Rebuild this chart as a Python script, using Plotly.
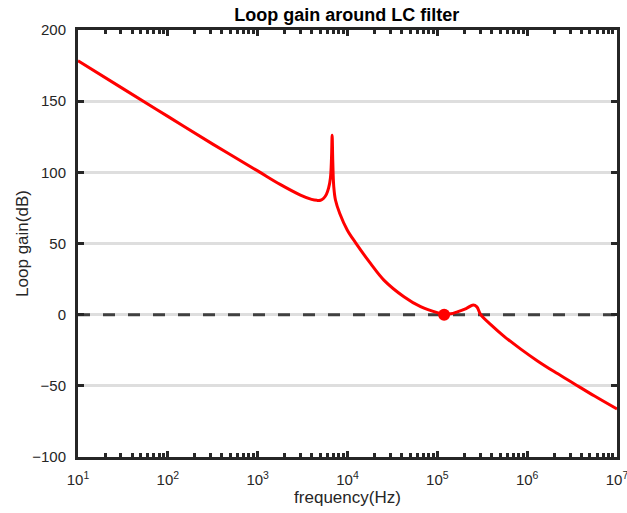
import plotly.graph_objects as go

# frequency (log10 Hz) and loop gain (dB)
log_freq = [1.0, 1.5, 2.0, 2.5, 3.0, 3.25, 3.476, 3.6, 3.66, 3.7, 3.735, 3.765, 3.79,
            3.81, 3.822, 3.829, 3.836, 3.847, 3.866, 3.914, 3.997, 4.089, 4.256, 4.405,
            4.628, 4.814, 5.0, 5.074, 5.15, 5.223, 5.32, 5.40, 5.44, 5.483, 5.595, 5.743,
            5.929, 6.115, 6.3, 6.487, 6.75, 7.0]
gain_db = [178.4, 158.8, 139.3, 119.8, 101.0, 91.5, 84.0, 81.0, 80.3, 80.4, 81.8, 84.5, 89.0,
           96.0, 110.0, 126.0, 108.0, 90.0, 80.6, 71.1, 59.5, 50.6, 36.0, 24.3,
           12.6, 5.6, 1.4, 0.4, 0.6, 2.0, 4.3, 6.8, 5.5, 0.0, -7.0, -15.2,
           -24.2, -32.5, -40.0, -47.1, -57.2, -66.3]
freq = [10 ** v for v in log_freq]

marker_freq = [1.19e5]
marker_gain = [0.0]

x_ticks = [1e1, 1e2, 1e3, 1e4, 1e5, 1e6, 1e7]
x_labels = ["10<sup>1</sup>", "10<sup>2</sup>", "10<sup>3</sup>", "10<sup>4</sup>",
            "10<sup>5</sup>", "10<sup>6</sup>", "10<sup>7</sup>"]
x_minor = [m * 10 ** e for e in range(1, 7) for m in range(2, 10)]
y_ticks = [-100, -50, 0, 50, 100, 150, 200]

FONT = "Liberation Sans, Arial, sans-serif"
AX = "#262626"

fig = go.Figure()
fig.add_trace(go.Scatter(x=[1e1, 1e7], y=[0, 0], mode="lines",
                         line=dict(color="#404040", width=3, dash="12px,13px"),
                         hoverinfo="skip", showlegend=False))
fig.add_trace(go.Scatter(x=freq, y=gain_db, mode="lines",
                         line=dict(color="#ff0000", width=3, shape="spline", smoothing=1.0),
                         showlegend=False))
fig.add_trace(go.Scatter(x=marker_freq, y=marker_gain, mode="markers",
                         marker=dict(color="#ff0000", size=12),
                         showlegend=False))

fig.update_layout(
    width=627, height=513,
    margin=dict(l=78, r=10, t=30, b=56),
    paper_bgcolor="white", plot_bgcolor="white",
    font=dict(family=FONT, color=AX, size=15),
    title=dict(text="<b>Loop gain around LC filter</b>", x=0.553, xanchor="center",
               y=0.972, yanchor="middle", font=dict(size=18, color="black")),
)
fig.update_xaxes(
    type="log", range=[1, 7], tickvals=x_ticks, ticktext=x_labels,
    automargin=False, ticklabeloverflow="allow", ticklabelstandoff=7,
    showline=True, linewidth=3, linecolor=AX, mirror="ticks",
    ticks="inside", ticklen=6, tickwidth=3, tickcolor=AX,
    showgrid=False, zeroline=False,
    minor=dict(tickvals=x_minor, ticks="inside", ticklen=4, tickwidth=3, tickcolor=AX,
               showgrid=False),
    title=dict(text="frequency(Hz)", font=dict(size=17), standoff=5),
    tickfont=dict(size=15),
)
fig.update_yaxes(
    range=[-100, 200], tickvals=y_ticks,
    automargin=False, ticklabeloverflow="allow",
    showline=True, linewidth=3, linecolor=AX, mirror="ticks",
    ticks="inside", ticklen=6, tickwidth=3, tickcolor=AX,
    showgrid=True, gridcolor="#dedede", gridwidth=3, zeroline=False,
    ticklabelstandoff=6,
    title=dict(text="Loop gain(dB)", font=dict(size=17), standoff=0),
    tickfont=dict(size=15),
)

fig.write_html("out.html")
